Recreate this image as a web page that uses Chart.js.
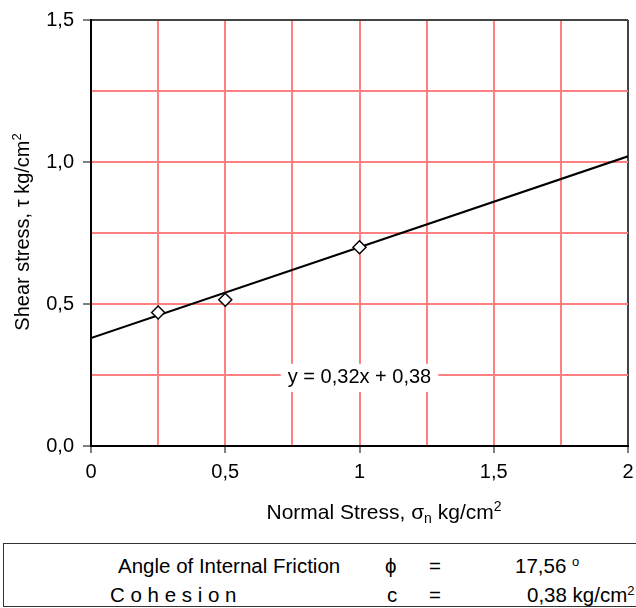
<!DOCTYPE html>
<html>
<head>
<meta charset="utf-8">
<script src="https://cdn.jsdelivr.net/npm/chart.js@4"></script>
<style>
  body { margin: 0; background: #fff; font-family: "Liberation Sans", Arial, sans-serif; }
  #wrap { position: absolute; left: 0; top: 0; width: 636px; height: 536px; }
  #info { position: absolute; left: 3px; top: 543px; width: 660px; height: 62px;
          border: 1px solid #333; font-size: 20.5px; color: #000; }
  #info span { position: absolute; white-space: nowrap; line-height: 22px; }
  #info sup { font-size: 13px; vertical-align: 7px; line-height: 0; }
</style>
</head>
<body>
<div id="wrap"><canvas id="shearChart"></canvas></div>
<div id="info">
  <span style="left:114px; top:11px;">Angle of Internal Friction</span>
  <span style="left:381px; top:11px;">&#x3D5;</span>
  <span style="left:425px; top:11px;">=</span>
  <span style="left:511px; top:11px;">17,56 <sup>o</sup></span>
  <span style="left:106px; top:40px;">C o h e s i o n</span>
  <span style="left:383px; top:40px;">c</span>
  <span style="left:425px; top:40px;">=</span>
  <span style="left:523px; top:40px;">0,38 kg/cm<sup>2</sup></span>
</div>
<script>
// Messepunkter (normalspænding / forskydningsspænding)
const normalStress = [0.25, 0.5, 1.0];
const shearStress = [0.47, 0.515, 0.70];

// Tendenslinje fra regneark: y = 0,32x + 0,38
const trendSlope = 0.32;
const trendIntercept = 0.38;
const trendX = [0, 2];

// Akser
const xTickLabels = [0, 0.5, 1, 1.5, 2];
const yTickLabels = [0, 0.5, 1.0, 1.5];
const gridStep = 0.25;

const FONT = '"Liberation Sans", Arial, sans-serif';
const FONT_SIZE = 20;

function isMajor(value, list) {
    return list.some(v => Math.abs(v - value) < 1e-6);
}

// Tegn tekst med hævet/sænket skrift
function drawRich(ctx, parts, cx, cy, size, rotate) {
    ctx.save();
    ctx.translate(cx, cy);
    if (rotate) ctx.rotate(-Math.PI / 2);
    ctx.textBaseline = 'middle';
    ctx.textAlign = 'left';
    ctx.fillStyle = '#000';
    let total = 0;
    parts.forEach(p => {
        ctx.font = (p.sub || p.sup ? Math.round(size * 0.65) : size) + 'px ' + FONT;
        p.w = ctx.measureText(p.t).width;
        total += p.w;
    });
    let x = -total / 2;
    parts.forEach(p => {
        ctx.font = (p.sub || p.sup ? Math.round(size * 0.65) : size) + 'px ' + FONT;
        const dy = p.sub ? size * 0.3 : (p.sup ? -size * 0.3 : 0);
        ctx.fillText(p.t, x, dy);
        x += p.w;
    });
    ctx.restore();
}

const labelsPlugin = {
    id: 'labelsPlugin',
    afterDraw(chart) {
        const ctx = chart.ctx;
        const xs = chart.scales.x;
        const ys = chart.scales.y;

        // Ligningen for tendenslinjen
        const lx = xs.getPixelForValue(1.0);
        const ly = ys.getPixelForValue(0.24);
        const text = 'y = 0,32x + 0,38';
        ctx.save();
        ctx.font = FONT_SIZE + 'px ' + FONT;
        const w = ctx.measureText(text).width;
        ctx.fillStyle = '#fff';
        ctx.fillRect(lx - w / 2 - 7, ly - 14, w + 14, 28);
        ctx.fillStyle = '#000';
        ctx.textAlign = 'center';
        ctx.textBaseline = 'middle';
        ctx.fillText(text, lx, ly);
        ctx.restore();

        // Aksetitler
        drawRich(ctx, [
            { t: 'Normal Stress, ' }, { t: '\u03c3' }, { t: 'n', sub: true },
            { t: ' kg/cm' }, { t: '2', sup: true }
        ], 384, 513, 21, false);
        drawRich(ctx, [
            { t: 'Shear stress, \u03c4 kg/cm' }, { t: '2', sup: true }
        ], 23, 232, FONT_SIZE, true);
    }
};

new Chart(document.getElementById('shearChart').getContext('2d'), {
    type: 'scatter',
    data: {
        datasets: [
            {
                label: 'Målinger',
                data: normalStress.map((x, i) => ({ x: x, y: shearStress[i] })),
                pointStyle: 'rectRot',
                pointRadius: 6.5,
                pointBackgroundColor: '#fff',
                pointBorderColor: '#000',
                pointBorderWidth: 1.5
            },
            {
                label: 'Tendens',
                data: trendX.map(x => ({ x: x, y: trendSlope * x + trendIntercept })),
                showLine: true,
                pointRadius: 0,
                borderColor: '#000',
                borderWidth: 2
            }
        ]
    },
    options: {
        responsive: true,
        maintainAspectRatio: false,
        animation: false,
        layout: { padding: { left: 0, right: 4, top: 20, bottom: 0 } },
        plugins: { legend: { display: false }, tooltip: { enabled: false } },
        scales: {
            x: {
                type: 'linear',
                min: 0,
                max: 2,
                afterFit: scale => {
                    scale.height = 90;
                    scale.paddingLeft = 0;
                    scale.paddingRight = 0;
                },
                border: { color: '#000', width: 2 },
                grid: {
                    lineWidth: 2,
                    tickLength: 7,
                    color: c => Math.abs(c.tick.value - 2) < 1e-6 ? '#444' : '#ff8080',
                    tickColor: c => isMajor(c.tick.value, xTickLabels) ? '#000' : 'rgba(0,0,0,0)',
                    tickWidth: 1
                },
                ticks: {
                    stepSize: gridStep,
                    autoSkip: false,
                    maxRotation: 0,
                    padding: 7,
                    color: '#000',
                    font: { family: FONT, size: FONT_SIZE },
                    callback: v => isMajor(v, xTickLabels) ? String(v).replace('.', ',') : ''
                }
            },
            y: {
                type: 'linear',
                min: 0,
                max: 1.5,
                afterFit: scale => {
                    scale.width = 91;
                    scale.paddingTop = 0;
                    scale.paddingBottom = 0;
                },
                border: { color: '#000', width: 2 },
                grid: {
                    lineWidth: 2,
                    tickLength: 8,
                    color: c => Math.abs(c.tick.value - 1.5) < 1e-6 ? '#444' : '#ff8080',
                    tickColor: c => isMajor(c.tick.value, yTickLabels) ? '#000' : 'rgba(0,0,0,0)',
                    tickWidth: 1
                },
                ticks: {
                    stepSize: gridStep,
                    autoSkip: false,
                    padding: 9,
                    color: '#000',
                    font: { family: FONT, size: FONT_SIZE },
                    callback: v => isMajor(v, yTickLabels) ? v.toFixed(1).replace('.', ',') : ''
                }
            }
        }
    },
    plugins: [labelsPlugin]
});
</script>
</body>
</html>
